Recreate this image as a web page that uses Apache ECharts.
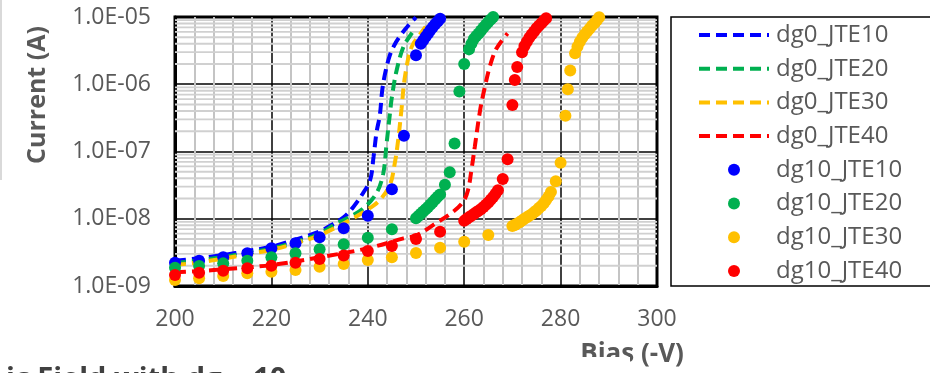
<!DOCTYPE html>
<html><head><meta charset="utf-8">
<script src="https://cdn.jsdelivr.net/npm/echarts@6/dist/echarts.min.js"></script>
<style>html,body{margin:0;padding:0;background:#fff}#c{width:930px;height:373px}</style>
</head><body><div id="c"></div>
<script>
// ---- data ----
const xTickLabels = ['200','220','240','260','280','300'];
const yTickLabels = ['1.0E-09','1.0E-08','1.0E-07','1.0E-06','1.0E-05'];
const lineNames = ['dg0_JTE10','dg0_JTE20','dg0_JTE30','dg0_JTE40'];
const dotNames = ['dg10_JTE10','dg10_JTE20','dg10_JTE30','dg10_JTE40'];
const colors = ['#0000FF','#00B050','#FFC000','#FF0000'];

const dg0_JTE10_V = [200,205,210,215,220,225,230,233,235,237,239,240.5,241.2,241.8,242.5,243,243.6,244.5,245.5,247,248.5,250];
const dg0_JTE10_I = [2.38e-9,2.58e-9,2.89e-9,3.31e-9,3.84e-9,4.9e-9,6.5e-9,8.5e-9,1.05e-8,1.5e-8,2.4e-8,3.8e-8,8.4e-8,1.9e-7,3.5e-7,8.2e-7,1.46e-6,2.6e-6,3.8e-6,5.6e-6,7.6e-6,9.9e-6];
const dg0_JTE20_V = [200,205,210,215,220,225,230,233.5,236.3,239.1,241.8,243.2,243.9,244.6,245,246,247.4,249.1,250];
const dg0_JTE20_I = [2.2e-9,2.4e-9,2.7e-9,3.1e-9,3.6e-9,4.5e-9,6.0e-9,8.5e-9,1.07e-8,1.43e-8,2.39e-8,4.7e-8,1.32e-7,3.7e-7,6.5e-7,1.63e-6,3.6e-6,5.7e-6,6.8e-6];
const dg0_JTE30_V = [200,205,210,215,220,225,230,236.3,239.8,242.5,244.6,245.6,246.3,247,247.7,249.1,251.2,252];
const dg0_JTE30_I = [2.05e-9,2.25e-9,2.55e-9,2.95e-9,3.45e-9,4.3e-9,5.7e-9,9.6e-9,1.35e-8,1.9e-8,3.2e-8,6.7e-8,1.48e-7,4.3e-7,1.29e-6,3.6e-6,6.0e-6,7.2e-6];
const dg0_JTE40_V = [200,205,210,220,230,240,247.4,250,253.6,257.7,259.8,260.8,261.5,262.2,263.3,264.3,265.4,266.7,269];
const dg0_JTE40_I = [1.6e-9,1.67e-9,1.77e-9,2.05e-9,2.67e-9,3.64e-9,5.1e-9,5.6e-9,8.1e-9,1.27e-8,1.8e-8,2.68e-8,5.3e-8,1.18e-7,4.1e-7,9.2e-7,1.93e-6,3.4e-6,5.7e-6];

const dg10_JTE10_V = [200,205,210,215,220,225,230,235,240,245,247.5,250,251,251.5,252,252.5,253,253.5,254,254.5,255];
const dg10_JTE10_I = [2.22e-9,2.38e-9,2.67e-9,3.06e-9,3.63e-9,4.31e-9,5.3e-9,7.2e-9,1.11e-8,2.74e-8,1.72e-7,2.7e-6,4.0e-6,4.5e-6,5.1e-6,5.7e-6,6.4e-6,7.1e-6,7.9e-6,8.6e-6,9.4e-6];
const dg10_JTE20_V = [200,205,210,215,220,225,230,235,240,245,250,250.5,251,251.5,252,252.5,253,253.5,254,254.5,255,256,257,258,259,260,261,261.5,262,262.5,263,263.5,264,264.5,265,265.5,266];
const dg10_JTE20_I = [1.87e-9,1.98e-9,2.17e-9,2.38e-9,2.67e-9,3.06e-9,3.52e-9,4.17e-9,5.2e-9,6.97e-9,1.02e-8,1.1e-8,1.19e-8,1.28e-8,1.38e-8,1.5e-8,1.63e-8,1.78e-8,1.95e-8,2.13e-8,2.3e-8,3.2e-8,4.9e-8,1.32e-7,7.8e-7,2.0e-6,3.3e-6,4.0e-6,4.7e-6,5.2e-6,5.7e-6,6.3e-6,7.0e-6,7.7e-6,8.4e-6,9.2e-6,1.0e-5];
const dg10_JTE30_V = [200,205,210,215,220,225,230,235,240,245,250,255,260,265,270,270.5,271,271.5,272,272.5,273,273.5,274,274.5,275,275.5,276,276.5,277,277.5,278,279,280,281,281.5,282,283,283.5,284,284.5,285,285.5,286,286.5,287,287.5,288];
const dg10_JTE30_I = [1.23e-9,1.30e-9,1.41e-9,1.55e-9,1.63e-9,1.73e-9,1.94e-9,2.12e-9,2.44e-9,2.67e-9,3.1e-9,3.71e-9,4.56e-9,5.73e-9,7.8e-9,8.1e-9,8.5e-9,8.9e-9,9.4e-9,1.0e-8,1.05e-8,1.11e-8,1.17e-8,1.25e-8,1.33e-8,1.44e-8,1.55e-8,1.7e-8,1.9e-8,2.15e-8,2.5e-8,3.6e-8,6.8e-8,3.4e-7,8.4e-7,1.6e-6,2.9e-6,3.6e-6,4.3e-6,4.9e-6,5.5e-6,6.1e-6,6.7e-6,7.4e-6,8.1e-6,8.9e-6,9.9e-6];
const dg10_JTE40_V = [200,205,210,215,220,225,230,235,240,245,250,255,260,260.5,261,261.5,262,262.5,263,263.5,264,264.5,265,265.5,266,266.5,267,268,269,270,270.5,271,272,272.5,273,273.5,274,274.5,275,275.5,276,276.5,277];
const dg10_JTE40_I = [1.46e-9,1.58e-9,1.69e-9,1.83e-9,2.0e-9,2.22e-9,2.52e-9,2.83e-9,3.31e-9,3.93e-9,5.0e-9,6.4e-9,9.3e-9,9.9e-9,1.05e-8,1.11e-8,1.18e-8,1.25e-8,1.32e-8,1.4e-8,1.5e-8,1.62e-8,1.75e-8,1.92e-8,2.1e-8,2.35e-8,2.65e-8,3.9e-8,7.7e-8,4.9e-7,1.16e-6,1.8e-6,3.0e-6,3.7e-6,4.3e-6,4.9e-6,5.5e-6,6.1e-6,6.8e-6,7.4e-6,8.1e-6,8.8e-6,9.6e-6];

// ---- build ----
const zip = (v, i) => v.map((x, k) => [x, i[k]]);
const lineData = [zip(dg0_JTE10_V, dg0_JTE10_I), zip(dg0_JTE20_V, dg0_JTE20_I), zip(dg0_JTE30_V, dg0_JTE30_I), zip(dg0_JTE40_V, dg0_JTE40_I)];
const dotData = [zip(dg10_JTE10_V, dg10_JTE10_I), zip(dg10_JTE20_V, dg10_JTE20_I), zip(dg10_JTE30_V, dg10_JTE30_I), zip(dg10_JTE40_V, dg10_JTE40_I)];

// log minor grid values (2..9 x 10^n)
const minorY = [];
for (let e = -9; e < -5; e++) for (let m = 2; m <= 9; m++) minorY.push(m * Math.pow(10, e));

const FONT = 'Open Sans';
const TXT = '#595959';

const series = [];
// horizontal log minor gridlines, placed through the y axis scale
series.push({
  type: 'custom', silent: true, z: 1, clip: false,
  data: minorY.map(v => [250, v]),
  renderItem: (params, api) => {
    const cs = params.coordSys;
    const y = api.coord([250, api.value(1)])[1];
    return { type: 'line', shape: { x1: cs.x, y1: y, x2: cs.x + cs.width, y2: y },
      style: { stroke: '#D0D0D0', lineWidth: 1.8 } };
  }
});
lineNames.forEach((n, k) => {
  series.push({
    name: n, type: 'line', data: lineData[k], symbol: 'none', showSymbol: false,
    smooth: 0.35,
    lineStyle: { color: colors[k], width: 4, type: [11, 6], cap: 'butt' },
    itemStyle: { color: colors[k] }, z: 2
  });
});
dotNames.forEach((n, k) => {
  series.push({
    name: n, type: 'scatter', data: dotData[k], symbol: 'circle', symbolSize: 12,
    clip: false, itemStyle: { color: colors[k], opacity: 1 }, z: 3
  });
});

const legendData = lineNames.map(n => ({ name: n, itemStyle: { opacity: 0 } }))
  .concat(dotNames.map(n => ({ name: n })));

const chart = echarts.init(document.getElementById('c'), null, { renderer: 'canvas' });
chart.setOption({
  animation: false,
  backgroundColor: '#fff',
  textStyle: { fontFamily: FONT },
  grid: { left: 175, top: 17, right: 273, bottom: 87, show: true, borderColor: '#000', borderWidth: 3, containLabel: false },
  xAxis: {
    type: 'value', min: 200, max: 300, interval: 20, z: 0,
    axisLine: { show: true, lineStyle: { color: '#000', width: 3 } },
    axisTick: { show: false },
    axisLabel: { margin: 22, color: TXT, fontSize: 23, fontFamily: FONT,
      formatter: v => xTickLabels[Math.round((v - 200) / 20)] },
    splitLine: { show: true, lineStyle: { color: '#000', width: 1.5 } },
    minorTick: { show: false, splitNumber: 5 },
    minorSplitLine: { show: true, lineStyle: { color: '#C4C4C4', width: 2 } }
  },
  yAxis: {
    type: 'log', logBase: 10, min: 1e-9, max: 1e-5,
    axisLine: { show: true, lineStyle: { color: '#000', width: 3 } },
    axisTick: { show: false },
    axisLabel: { margin: 24, color: TXT, fontSize: 23, fontFamily: FONT,
      formatter: v => yTickLabels[Math.round(Math.log10(v)) + 9] },
    splitLine: { show: true, lineStyle: { color: '#000', width: 1.5 } }
  },
  legend: {
    orient: 'vertical', left: 697, top: 23, padding: 0,
    itemWidth: 70, itemHeight: 12, itemGap: 9.7,
    data: legendData,
    textStyle: { color: TXT, fontSize: 24, fontFamily: FONT, lineHeight: 24, padding: [0, 0, 0, 2] },
    lineStyle: { width: 4 }
  },
  graphic: [
    { type: 'rect', left: 0, top: 0, shape: { width: 2, height: 180 }, style: { fill: '#D9D9D9' }, silent: true },
    { type: 'rect', shape: { x: 671, y: 17, width: 300, height: 269 }, style: { fill: 'none', stroke: '#000', lineWidth: 1.5 }, silent: true, z: 10 },
    { type: 'text', x: 38, y: 95, rotation: Math.PI / 2, style: { text: 'Current (A)', fill: TXT, font: 'bold 25px "Open Sans"', align: 'center', verticalAlign: 'middle' }, silent: true },
    { type: 'text', x: 632, y: 355, style: { text: 'Bias (-V)', fill: TXT, font: 'bold 26px "Open Sans"', align: 'center', verticalAlign: 'middle' }, silent: true, z: 10 },
    { type: 'rect', shape: { x: 0, y: 357, width: 630, height: 16 }, style: { fill: '#fff' }, silent: true, z: 11 },
    { type: 'text', x: 6, y: 365, style: { text: 'ic Field with dg = 10', fill: '#404040', font: 'bold 29px "Open Sans"', align: 'left', verticalAlign: 'top' }, silent: true, z: 12 }
  ],
  series: series
});
</script>
</body></html>
